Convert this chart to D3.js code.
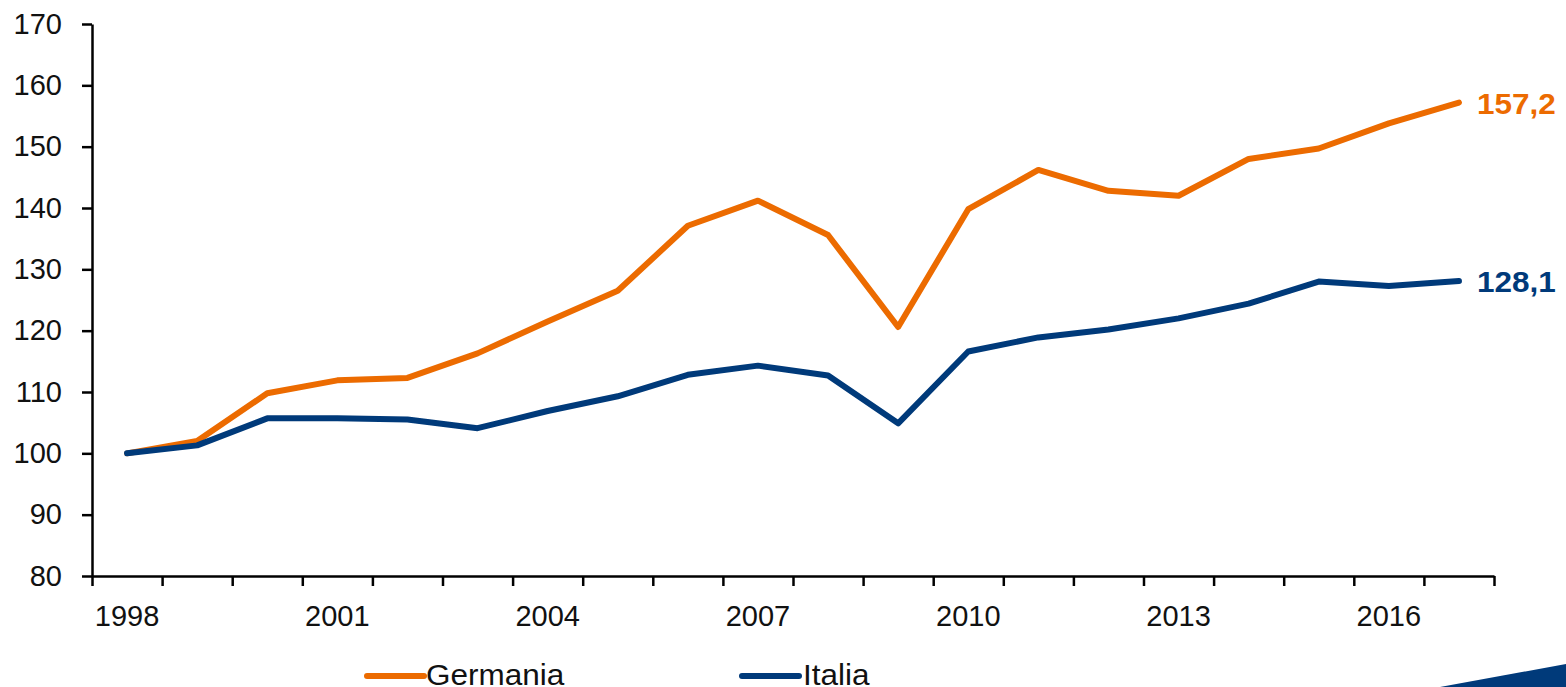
<!DOCTYPE html>
<html>
<head>
<meta charset="utf-8">
<script src="https://cdn.jsdelivr.net/npm/d3@7"></script>
<style>
  body { margin: 0; background: #fff; }
  svg { display: block; font-family: "Liberation Sans", Arial, sans-serif; }
</style>
</head>
<body>
<svg id="chart" width="1566" height="687"></svg>
<script>
var years = d3.range(1998, 2018);
var germania = [100, 102, 109.8, 111.9, 112.3, 116.3, 121.5, 126.5, 137.1, 141.2,
                135.6, 120.6, 139.8, 146.2, 142.8, 142.0, 148.0, 149.7, 153.8, 157.2];
var italia = [100, 101.3, 105.7, 105.7, 105.5, 104.1, 106.9, 109.3, 112.8, 114.3,
              112.7, 104.9, 116.6, 118.9, 120.2, 122.0, 124.4, 128.0, 127.3, 128.1];
var yTicks = d3.range(80, 171, 10);
var xLabelYears = [1998, 2001, 2004, 2007, 2010, 2013, 2016];
var endLabels = ["157,2", "128,1"];
var seriesNames = ["Germania", "Italia"];

var colors = ["#EC6B00", "#003A7A"];
var series = [germania, italia];

var svg = d3.select("#chart");

var plotLeft = 92, plotRight = 1494, plotTop = 24, plotBottom = 576;

var x = d3.scaleBand().domain(years).range([plotLeft, plotRight]).padding(0);
var xEdge = d3.scaleLinear().domain([0, years.length]).range([plotLeft, plotRight]);
var y = d3.scaleLinear().domain([80, 170]).range([plotBottom, plotTop]);

// y axis
svg.append("g")
    .attr("transform", "translate(" + plotLeft + ",0)")
    .call(d3.axisLeft(y).tickValues(yTicks).tickSizeInner(10).tickSizeOuter(0).tickPadding(20));

// x axis: boundary ticks
svg.append("g")
    .attr("transform", "translate(0," + plotBottom + ")")
    .call(d3.axisBottom(xEdge).tickValues(d3.range(years.length + 1))
        .tickSizeInner(10).tickSizeOuter(0).tickFormat(""));

// x axis: labels centred in the bands
var xLabels = svg.append("g")
    .attr("transform", "translate(0," + plotBottom + ")")
    .call(d3.axisBottom(x).tickValues(xLabelYears).tickSize(0).tickPadding(29));
xLabels.select(".domain").remove();

svg.selectAll(".domain, .tick line")
    .attr("stroke", "#000")
    .attr("stroke-width", 2.5);
svg.selectAll(".tick text")
    .attr("fill", "#111")
    .style("font-size", "29px");

// lines
var line = d3.line()
    .x(function(d, i) { return x(years[i]) + x.bandwidth() / 2; })
    .y(function(d) { return y(d); });

series.forEach(function(s, k) {
    svg.append("path")
        .datum(s)
        .attr("fill", "none")
        .attr("stroke", colors[k])
        .attr("stroke-width", 6)
        .attr("stroke-linecap", "round")
        .attr("stroke-linejoin", "round")
        .attr("d", line);

    var lx = x(years[years.length - 1]) + x.bandwidth() / 2 + 18;
    var ly = y(s[s.length - 1]);
    svg.append("text")
        .attr("transform", "translate(" + lx + "," + ly + ") scale(1.05,1)")
        .attr("dy", "0.37em")
        .attr("fill", colors[k])
        .style("font-size", "30px")
        .style("font-weight", "bold")
        .text(endLabels[k]);
});

// legend
var legendX = [367, 742];
seriesNames.forEach(function(name, k) {
    var g = svg.append("g").attr("transform", "translate(" + legendX[k] + ",676)");
    g.append("line")
        .attr("x1", 0).attr("x2", 57)
        .attr("stroke", colors[k])
        .attr("stroke-width", 6)
        .attr("stroke-linecap", "round");
    g.append("text")
        .attr("transform", "translate(" + (k === 0 ? 59 : 61) + ",9) scale(1.05,1)")
        .attr("fill", "#111")
        .style("font-size", "30px")
        .text(name);
});

// corner decoration
svg.append("polygon")
    .attr("points", "1440,687 1566,664 1566,687")
    .attr("fill", "#003A7A");
</script>
</body>
</html>
